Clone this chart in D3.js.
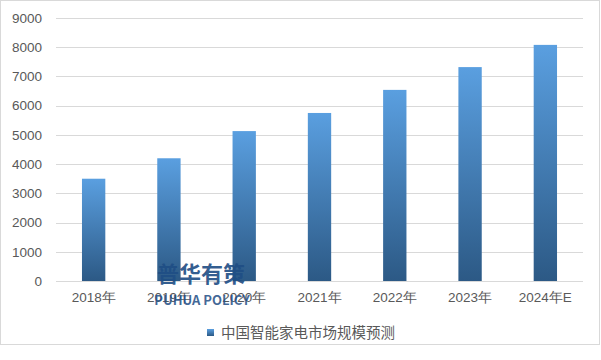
<!DOCTYPE html>
<html>
<head>
<meta charset="utf-8">
<script src="https://cdn.jsdelivr.net/npm/d3@7"></script>
<style>
  body { margin: 0; background: #fff; }
  svg { display: block; font-family: "Microsoft YaHei", "Noto Sans CJK SC", "DejaVu Sans", sans-serif; }
</style>
</head>
<body>
<svg id="chart" width="601" height="360"></svg>
<script>
// chart data
const categories = ["2018年", "2019年", "2020年", "2021年", "2022年", "2023年", "2024年E"];
const values = [3500, 4200, 5130, 5750, 6540, 7320, 8080];
const yTicks = [0, 1000, 2000, 3000, 4000, 5000, 6000, 7000, 8000, 9000];
const seriesName = "中国智能家电市场规模预测";

var margin = {top: 18, right: 18, bottom: 79, left: 56},
    width = 601 - margin.left - margin.right,
    height = 360 - margin.top - margin.bottom;

var svg = d3.select("#chart");

// outer frame
svg.append("rect")
    .attr("x", 0.5).attr("y", 0.5)
    .attr("width", 599).attr("height", 344)
    .attr("fill", "#fff")
    .attr("stroke", "#d9d9d9");

var defs = svg.append("defs");
var grad = defs.append("linearGradient")
    .attr("id", "barGrad")
    .attr("x1", 0).attr("y1", 0).attr("x2", 0).attr("y2", 1);
grad.append("stop").attr("offset", "0%").attr("stop-color", "#5a9fe0");
grad.append("stop").attr("offset", "100%").attr("stop-color", "#2c5985");

var g = svg.append("g")
    .attr("transform", "translate(" + margin.left + "," + margin.top + ")");

var x = d3.scaleBand().domain(categories).range([0, width]).paddingInner(0.69).paddingOuter(0.345);
var y = d3.scaleLinear().domain([0, 9000]).range([height, 0]);

// gridlines
g.selectAll("line.grid").data(yTicks).enter()
    .append("line")
    .attr("class", "grid")
    .attr("x1", 0).attr("x2", width)
    .attr("y1", d => Math.round(y(d)) + 0.5)
    .attr("y2", d => Math.round(y(d)) + 0.5)
    .attr("stroke", "#d9d9d9");

// y axis labels
var yAxis = d3.axisLeft(y).tickValues(yTicks).tickFormat(d3.format("d")).tickSize(0).tickPadding(14);
g.append("g").call(yAxis)
    .call(s => s.select(".domain").remove())
    .selectAll("text")
    .attr("font-size", 13.5)
    .attr("fill", "#595959");

// bars
g.selectAll("rect.bar").data(values).enter()
    .append("rect")
    .attr("class", "bar")
    .attr("x", (d, i) => x(categories[i]))
    .attr("y", d => y(d))
    .attr("width", x.bandwidth())
    .attr("height", d => height - y(d))
    .attr("fill", "url(#barGrad)");

// x axis labels
var xAxis = d3.axisBottom(x).tickSize(0).tickPadding(11);
g.append("g")
    .attr("transform", "translate(0," + height + ")")
    .call(xAxis)
    .call(s => s.select(".domain").remove())
    .selectAll("text")
    .attr("font-size", 13.5)
    .attr("fill", "#595959");

// watermark
svg.append("text")
    .attr("x", 201).attr("y", 282)
    .attr("text-anchor", "middle")
    .attr("font-size", 22)
    .attr("font-weight", "bold")
    .attr("fill", "#1f4e85")
    .attr("fill-opacity", 0.92)
    .text("普华有策");
svg.append("text")
    .attr("x", 202).attr("y", 305)
    .attr("text-anchor", "middle")
    .attr("font-size", 13)
    .attr("font-weight", "bold")
    .attr("fill", "#1f4e85")
    .attr("fill-opacity", 0.85)
    .text("PUHUA POLICY");

// legend
var legend = svg.append("g").attr("transform", "translate(207,333)");
legend.append("rect")
    .attr("x", 0).attr("y", -4)
    .attr("width", 7).attr("height", 7)
    .attr("fill", "url(#barGrad)");
legend.append("text")
    .attr("x", 14).attr("y", 0)
    .attr("dy", "0.35em")
    .attr("font-size", 14.5)
    .attr("fill", "#595959")
    .text(seriesName);
</script>
</body>
</html>
